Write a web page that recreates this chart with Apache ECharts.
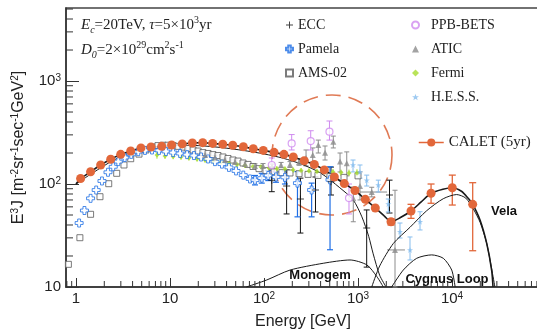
<!DOCTYPE html>
<html>
<head>
<meta charset="utf-8">
<script src="https://cdn.jsdelivr.net/npm/echarts@6/dist/echarts.min.js"></script>
<style>
  html, body { margin: 0; padding: 0; background: #fff; }
  #chart { width: 537px; height: 330px; }
</style>
</head>
<body>
<div id="chart"></div>
<script>
// axis ranges
const X_MIN = 0.783, X_MAX = 86300
const Y_MIN = 10, Y_MAX = 5117
const xMinorTicks = [0.8, 0.9, 2, 3, 4, 5, 6, 7, 8, 9, 20, 30, 40, 50, 60, 70, 80, 90,
  200, 300, 400, 500, 600, 700, 800, 900, 2000, 3000, 4000, 5000, 6000, 7000, 8000, 9000,
  20000, 30000, 40000, 50000, 60000, 70000, 80000]
const yMinorTicks = [20, 30, 40, 50, 60, 70, 80, 90, 200, 300, 400, 500, 600, 700, 800, 900,
  2000, 3000, 4000, 5000]

// CALET (5yr) simulated points
const caletE = [1.12, 1.43, 1.83, 2.34, 2.99, 3.82, 4.91, 6.28, 8.16, 10.4, 13.5, 17.3, 22.3, 28.4,
  36.4, 46.5, 60.3, 76.9, 98.3, 128, 163, 205, 268, 343, 438, 560, 715, 929, 1196, 1528, 2245,
  3664, 5987, 10070, 16600]
const caletF = [113, 131.5, 153, 174, 194, 209, 224, 229, 232, 239, 245, 250, 252, 248, 243, 238,
  230, 220, 212, 203, 194, 183, 168, 155, 137, 117, 101, 86.5, 71, 58.5, 43, 54.7, 81.3, 92, 63.5]
const caletErrE = [2245, 3664, 5987, 10070, 16600]
const caletErrLo = [40, 46.4, 65, 62.5, 22.5]
const caletErrHi = [46, 63.5, 100, 122, 103]

// model curves
const totalE = [1, 1.12, 1.43, 1.83, 2.34, 2.99, 3.82, 4.91, 6.28, 8.16, 10.4, 13.5, 17.3, 22.3,
  28.4, 36.4, 46.5, 60.3, 76.9, 98.3, 128, 163, 205, 268, 343, 438, 560, 715, 929, 1196, 1528,
  1900, 2245, 2800, 3664, 4700, 5987, 8000, 10070, 12600, 14800, 16600, 19860, 23400, 26400, 27300]
const totalF = [100, 113, 131.5, 153, 174, 194, 209, 224, 229, 232, 239, 245, 250, 252, 248, 243,
  238, 230, 220, 212, 203, 194, 183, 168, 155, 137, 117, 101, 86.5, 71, 58.5, 49, 43, 47, 54.7,
  67, 81.3, 89, 92, 85, 73, 63.5, 44.8, 26.5, 14.6, 10]
const bgE = [1, 1.5, 2.5, 4, 7, 12, 20, 35, 60, 100, 160, 250, 400, 640, 890, 1100, 1300, 1450, 1700, 1990]
const bgF = [100, 128, 170, 206, 228, 237, 236, 226, 212, 196, 178, 156, 128, 92, 70, 48, 31, 21, 13, 10]
const monogemE = [65, 107, 189, 427, 822, 1240, 1590, 1860]
const monogemF = [10, 11.7, 14.6, 17, 18.3, 16.4, 12.6, 10]
const velaE = [1400, 1700, 2380, 3575, 5370, 8070, 11200, 14000, 16900, 20000, 23400, 26400, 28600]
const velaF = [10, 16, 26.5, 38, 55, 72, 79, 73, 57, 42, 26.5, 15, 10]
const cygnusE = [2280, 3030, 4210, 6080, 8080, 9930, 10800]
const cygnusF = [10, 14.6, 19, 20.5, 19, 14.6, 10]

// measurements
const amsE = [0.83, 1.10, 1.43, 1.80, 2.23, 2.71, 3.24, 3.82, 4.68, 5.55, 6.43, 7.45, 8.43, 9.52,
  10.8, 12.2, 13.8, 15.5, 17.6, 19.9, 22.4, 25.4, 28.6, 32.4, 36.6, 41.4, 46.8, 52.9, 59.8, 67.6,
  76.4, 88.5, 105, 128, 155, 189, 236, 294, 375, 503, 710, 1000]
const amsF = [16.6, 30.1, 50.8, 75.3, 100.7, 127, 153, 176, 195, 214, 229, 236, 238, 238, 236, 232,
  228, 221, 214, 209, 202, 198, 193, 189, 183, 177, 171, 167, 160, 155, 148, 141, 135, 132, 129,
  128, 126, 124, 121, 118, 116, 120]

const pamelaE = [1.08, 1.23, 1.43, 1.64, 1.89, 2.19, 2.49, 2.82, 3.30, 3.87, 4.60, 5.42, 6.44, 7.64,
  9.06, 10.8, 12.8, 15.2, 18.0, 21.4, 25.4, 30.1, 35.7, 42.4, 50.4, 60.2, 71.0, 80.2, 94.6, 111,
  134, 167, 227, 321, 504]
const pamelaF = [41.8, 55.3, 72.6, 87.4, 107, 130, 147, 165, 181, 194, 206, 212, 214, 212, 207, 202,
  198, 193, 189, 183, 175, 165, 156, 145, 134, 122, 112, 109, 114, 121, 117, 116, 102, 87.5, 110]
const pamelaErrE = [80.2, 94.6, 111, 134, 167, 227, 321, 504]
const pamelaErrLo = [98, 102, 108, 104, 100, 48, 48, 23]
const pamelaErrHi = [121, 127, 135, 131, 134, 132, 102, 147]

const fermiE = [7.27, 8.85, 10.8, 13.1, 15.9, 19.4, 23.6, 28.7, 34.9, 42.4, 51.6, 62.8, 76.4, 92.9,
  113, 137, 167, 204, 248, 301, 366, 446, 542, 659, 802, 975]
const fermiF = [191, 187, 185, 183, 179, 175, 171, 167, 164, 158, 155, 151, 148, 146, 143, 141, 140,
  137, 135, 134, 132, 132, 131, 129, 128, 128]
const fermiLo = [176, 175, 174, 172, 169, 165, 161, 158, 155, 150, 146, 143, 140, 138, 135, 133, 132,
  129, 127, 126, 124, 124, 122, 120, 119, 118]
const fermiHi = [205, 199, 196, 194, 189, 185, 181, 176, 173, 167, 164, 159, 156, 154, 151, 149, 148,
  145, 143, 142, 140, 141, 140, 138, 138, 139]

const aticE = [23.6, 30.1, 38.5, 49.2, 62.8, 80.2, 97.6, 122, 152, 189, 236, 280, 330, 378, 446, 546,
  644, 759, 891, 1050, 1400, 2475]
const aticF = [191, 181, 171, 164, 156, 150, 150, 148, 153, 155, 164, 179, 191, 239, 201, 257, 165,
  159, 72.6, 95.6, 83.6, 22.9]
const aticLo = [184, 174, 164, 157, 149, 143, 142, 140, 144, 145, 152, 150, 164, 200, 171, 224, 131,
  120, 43, 70, 75, 10]
const aticHi = [198, 188, 178, 171, 163, 157, 158, 156, 162, 165, 176, 214, 224, 267, 234, 292, 200,
  205, 93.5, 131, 93, 87]
const aticXLo = [null, null, null, null, null, null, null, null, null, null, null, null, null, null,
  null, null, null, null, null, null, 1050, 2037]
const aticXHi = [null, null, null, null, null, null, null, null, null, null, null, null, null, null,
  null, null, null, null, null, null, 2037, 3160]

const eccE = [121, 174, 244, 353, 516, 1237, 2163]
const eccF = [109, 95.6, 71.5, 87.5, 105, 37.4, 78.2]
const eccLo = [84.2, 51.2, 33.4, 53.5, 78.2, 15.6, 52.3]
const eccHi = [146, 137, 114, 117, 146, 56, 109]

const ppbE = [121, 197, 314, 497, 802]
const ppbF = [153, 248, 261, 322, 73.1]
const ppbLo = [131, 214, 214, 267, 51.2]
const ppbHi = [179, 302, 329, 409, 100]

const hessE = [885, 1050, 1238, 1644, 2100, 2797, 3575, 4570]
const hessF = [153, 131, 109, 97.7, 64, 34.4, 22.9, 43]
const hessLo = [131, 114, 95.6, 83.6, 53.5, 29.9, 18.3, 35.8]
const hessHi = [171, 153, 122, 109, 71.5, 41.8, 30.6, 53.8]

const PLUS = 'path://M4.3,0H5.7V4.3H10V5.7H5.7V10H4.3V5.7H0V4.3H4.3Z'
const FAT_PLUS = 'path://M3.2,0H6.8V3.2H10V6.8H6.8V10H3.2V6.8H0V3.2H3.2Z'
const STAR = 'path://M5,0L6.2,3.6L10,3.6L7,5.9L8.1,9.5L5,7.3L1.9,9.5L3,5.9L0,3.6L3.8,3.6Z'
const SERIF = 'Liberation Serif'
const SANS = 'Liberation Sans'

const zip = (a, b) => a.map((v, i) => [v, b[i]])

function errRows(E, F, lo, hi, xlo, xhi) {
  const rows = []
  E.forEach((x, i) => {
    if (lo[i] == null) return
    rows.push([x, F ? F[i] : x, lo[i], hi[i],
      xlo && xlo[i] != null ? xlo[i] : x, xhi && xhi[i] != null ? xhi[i] : x])
  })
  return rows
}

function errSeries(name, color, rows, cap, width) {
  return {
    type: 'custom', name, silent: true, z: 3,
    data: rows,
    encode: { x: 0, y: 1 },
    renderItem(params, api) {
      const x = api.value(0), y = api.value(1)
      const a = api.coord([x, api.value(2)])
      const b = api.coord([x, api.value(3)])
      const st = () => ({ stroke: color, lineWidth: width })
      const kids = [
        { type: 'line', shape: { x1: a[0], y1: a[1], x2: b[0], y2: b[1] }, style: st() },
        { type: 'line', shape: { x1: a[0] - cap, y1: a[1], x2: a[0] + cap, y2: a[1] }, style: st() },
        { type: 'line', shape: { x1: b[0] - cap, y1: b[1], x2: b[0] + cap, y2: b[1] }, style: st() },
      ]
      const l = api.value(4), r = api.value(5)
      if (l !== x || r !== x) {
        const p = api.coord([l, y]), q = api.coord([r, y])
        kids.push({ type: 'line', shape: { x1: p[0], y1: p[1], x2: q[0], y2: q[1] }, style: st() })
      }
      return { type: 'group', children: kids }
    },
  }
}

function tickSeries(data, horizontal, len) {
  return {
    type: 'custom', silent: true, z: 6,
    data,
    encode: { x: 0, y: 1 },
    renderItem(params, api) {
      const p = api.coord([api.value(0), api.value(1)])
      return {
        type: 'line',
        shape: horizontal
          ? { x1: p[0], y1: p[1], x2: p[0] + len, y2: p[1] }
          : { x1: p[0], y1: p[1], x2: p[0], y2: p[1] - len },
        style: { stroke: '#333', lineWidth: 1 },
      }
    },
  }
}

const model = (name, E, F, width) => ({
  type: 'line', name, data: zip(E, F), showSymbol: false, smooth: 0.25,
  silent: true, z: 4,
  lineStyle: { color: '#1a1a1a', width },
})

const powLabel = (v) => {
  const e = Math.round(Math.log10(v))
  if (e === 0) return '1'
  if (e === 1) return '10'
  return '10{s|' + e + '}'
}

const legendBase = {
  orient: 'vertical', itemWidth: 7, itemHeight: 7, itemGap: 10,
  textStyle: { fontFamily: SERIF, fontSize: 14, color: '#222', lineHeight: 14 },
}

const chart = echarts.init(document.getElementById('chart'))
chart.setOption({
  animation: false,
  grid: {
    left: 66, top: 8, right: -3, bottom: 43, outerBoundsMode: 'none', containLabel: false,
    show: true, borderColor: '#444', borderWidth: 1.5,
  },
  xAxis: {
    type: 'log', min: X_MIN, max: X_MAX,
    name: 'Energy [GeV]', nameLocation: 'middle', nameGap: 27,
    nameTextStyle: { fontFamily: SANS, fontSize: 16, color: '#222' },
    axisLine: { lineStyle: { color: '#333', width: 1.5 } },
    axisTick: { inside: true, length: 9, lineStyle: { color: '#333' } },
    axisLabel: {
      margin: 4, fontFamily: SANS, fontSize: 15, color: '#222', showMinLabel: false, showMaxLabel: false,
      formatter: powLabel, rich: { s: { fontSize: 10, verticalAlign: 'top', fontFamily: SANS, color: '#222' } },
    },
    splitLine: { show: false },
  },
  yAxis: {
    type: 'log', min: Y_MIN, max: Y_MAX,
    name: 'E{s|3}J [m{s|-2}sr{s|-1}sec{s|-1}GeV{s|2}]', nameLocation: 'middle', nameGap: 33,
    nameTextStyle: {
      fontFamily: SANS, fontSize: 16, color: '#222', lineHeight: 18,
      rich: { s: { fontFamily: SANS, fontSize: 10, verticalAlign: 'top', color: '#222' } },
    },
    axisLine: { lineStyle: { color: '#333', width: 1.5 } },
    axisTick: { inside: true, length: 13, lineStyle: { color: '#333' } },
    axisLabel: {
      margin: 5, fontFamily: SANS, fontSize: 15, color: '#222', showMaxLabel: false,
      formatter: powLabel, rich: { s: { fontSize: 10, verticalAlign: 'top', fontFamily: SANS, color: '#222' } },
    },
    splitLine: { show: false },
  },
  legend: [
    Object.assign({}, legendBase, {
      left: 280, top: 13,
      data: [{ name: 'ECC', icon: PLUS }, { name: 'Pamela', icon: FAT_PLUS }, { name: 'AMS-02', icon: 'rect' }],
    }),
    Object.assign({}, legendBase, {
      left: 406, top: 13, textStyle: Object.assign({}, legendBase.textStyle, { padding: [0, 0, 0, 7] }),
      data: [{ name: 'PPB-BETS', icon: 'circle' }, { name: 'ATIC', icon: 'triangle' },
        { name: 'Fermi', icon: 'diamond' }, { name: 'H.E.S.S.', icon: STAR }],
    }),
    {
      left: 413, top: 130, itemWidth: 25, itemHeight: 10,
      textStyle: { fontFamily: SERIF, fontSize: 15, color: '#222', lineHeight: 14 },
      lineStyle: { color: '#e2673a', width: 1.5, opacity: 1 },
      data: [{ name: 'CALET (5yr)', lineStyle: { color: '#e2673a', width: 1.5, opacity: 1 } }],
    },
  ],
  graphic: [
    {
      type: 'circle', shape: { cx: 332, cy: 155, r: 60 }, silent: true, z: 0,
      style: { fill: 'none', stroke: '#e07a55', lineWidth: 1.6, lineDash: [15, 8] },
    },
    {
      type: 'text', left: 81, top: 15, silent: true,
      style: {
        text: '{i|E}{b|c}{n|=20TeV, }{i|τ}{n|=5×10}{p|3}{n|yr}',
        rich: {
          i: { fontFamily: SERIF, fontStyle: 'italic', fontSize: 15, fill: '#222', lineHeight: 20 },
          n: { fontFamily: SERIF, fontSize: 15, fill: '#222', lineHeight: 20 },
          b: { fontFamily: SERIF, fontStyle: 'italic', fontSize: 10, fill: '#222', verticalAlign: 'bottom', lineHeight: 20 },
          p: { fontFamily: SERIF, fontSize: 10, fill: '#222', verticalAlign: 'top', lineHeight: 20 },
        },
      },
    },
    {
      type: 'text', left: 81, top: 40, silent: true,
      style: {
        text: '{i|D}{b|0}{n|=2×10}{p|29}{n|cm}{p|2}{n|s}{p|-1}',
        rich: {
          i: { fontFamily: SERIF, fontStyle: 'italic', fontSize: 15, fill: '#222', lineHeight: 20 },
          n: { fontFamily: SERIF, fontSize: 15, fill: '#222', lineHeight: 20 },
          b: { fontFamily: SERIF, fontStyle: 'italic', fontSize: 10, fill: '#222', verticalAlign: 'bottom', lineHeight: 20 },
          p: { fontFamily: SERIF, fontSize: 10, fill: '#222', verticalAlign: 'top', lineHeight: 20 },
        },
      },
    },
    { type: 'text', x: 320, y: 275, silent: true, z: 10,
      style: { text: 'Monogem', fontFamily: SANS, fontWeight: 'bold', fontSize: 13, fill: '#111', align: 'center', verticalAlign: 'middle' } },
    { type: 'text', x: 447, y: 279, silent: true, z: 10,
      style: { text: 'Cygnus Loop', fontFamily: SANS, fontWeight: 'bold', fontSize: 13, fill: '#111', align: 'center', verticalAlign: 'middle' } },
    { type: 'text', x: 504, y: 211, silent: true, z: 10,
      style: { text: 'Vela', fontFamily: SANS, fontWeight: 'bold', fontSize: 13, fill: '#111', align: 'center', verticalAlign: 'middle' } },
  ],
  series: [
    tickSeries(xMinorTicks.map((v) => [v, Y_MIN]), false, 6),
    tickSeries(yMinorTicks.map((v) => [X_MIN, v]), true, 7),

    model('total', totalE, totalF, 1.6),
    model('background', bgE, bgF, 1),
    model('Monogem', monogemE, monogemF, 1),
    model('Vela', velaE, velaF, 1),
    model('Cygnus Loop', cygnusE, cygnusF, 1),

    errSeries('fermi-err', '#a8dc30', errRows(fermiE, fermiF, fermiLo, fermiHi), 0, 1),
    errSeries('atic-err', '#8c8c8c', errRows(aticE, aticF, aticLo, aticHi, aticXLo, aticXHi), 2.5, 1),
    errSeries('ecc-err', '#111', errRows(eccE, eccF, eccLo, eccHi), 3, 1),
    errSeries('ppb-err', '#cf8bef', errRows(ppbE, ppbF, ppbLo, ppbHi), 3, 1),
    errSeries('hess-err', '#86bdee', errRows(hessE, hessF, hessLo, hessHi), 2.5, 1),
    errSeries('pamela-err', '#1f6fe5', errRows(pamelaErrE, pamelaErrE.map((e) => pamelaF[pamelaE.indexOf(e)]), pamelaErrLo, pamelaErrHi), 3, 1.2),
    errSeries('calet-err', '#e2673a', errRows(caletErrE, null, caletErrLo, caletErrHi), 3.5, 1.3),

    { type: 'scatter', name: 'AMS-02', data: zip(amsE, amsF), symbol: 'rect', symbolSize: 6, z: 4,
      itemStyle: { color: '#fff', borderColor: '#5a5a5a', borderWidth: 1 } },
    { type: 'scatter', name: 'Fermi', data: zip(fermiE, fermiF), symbol: 'diamond', symbolSize: 5, z: 4,
      itemStyle: { color: '#a8dc30' } },
    { type: 'scatter', name: 'Pamela', data: zip(pamelaE, pamelaF), symbol: FAT_PLUS, symbolSize: 8, z: 4,
      itemStyle: { color: '#fff', borderColor: '#1f6fe5', borderWidth: 1 } },
    { type: 'scatter', name: 'ATIC', data: zip(aticE, aticF), symbol: 'triangle', symbolSize: 6, z: 4,
      itemStyle: { color: '#8c8c8c' } },
    { type: 'scatter', name: 'ECC', data: zip(eccE, eccF), symbol: PLUS, symbolSize: 7, z: 4,
      itemStyle: { color: '#111' } },
    { type: 'scatter', name: 'PPB-BETS', data: zip(ppbE, ppbF), symbol: 'circle', symbolSize: 7, z: 4,
      itemStyle: { color: '#fff', borderColor: '#cf8bef', borderWidth: 1.2 } },
    { type: 'scatter', name: 'H.E.S.S.', data: zip(hessE, hessF), symbol: STAR, symbolSize: 6, z: 4,
      itemStyle: { color: '#86bdee' } },
    { type: 'line', name: 'CALET (5yr)', data: zip(caletE, caletF), symbol: 'circle', symbolSize: 9,
      showSymbol: true, z: 5, lineStyle: { width: 0, opacity: 0 },
      itemStyle: { color: '#e2673a' } },
  ],
})
</script>
</body>
</html>
